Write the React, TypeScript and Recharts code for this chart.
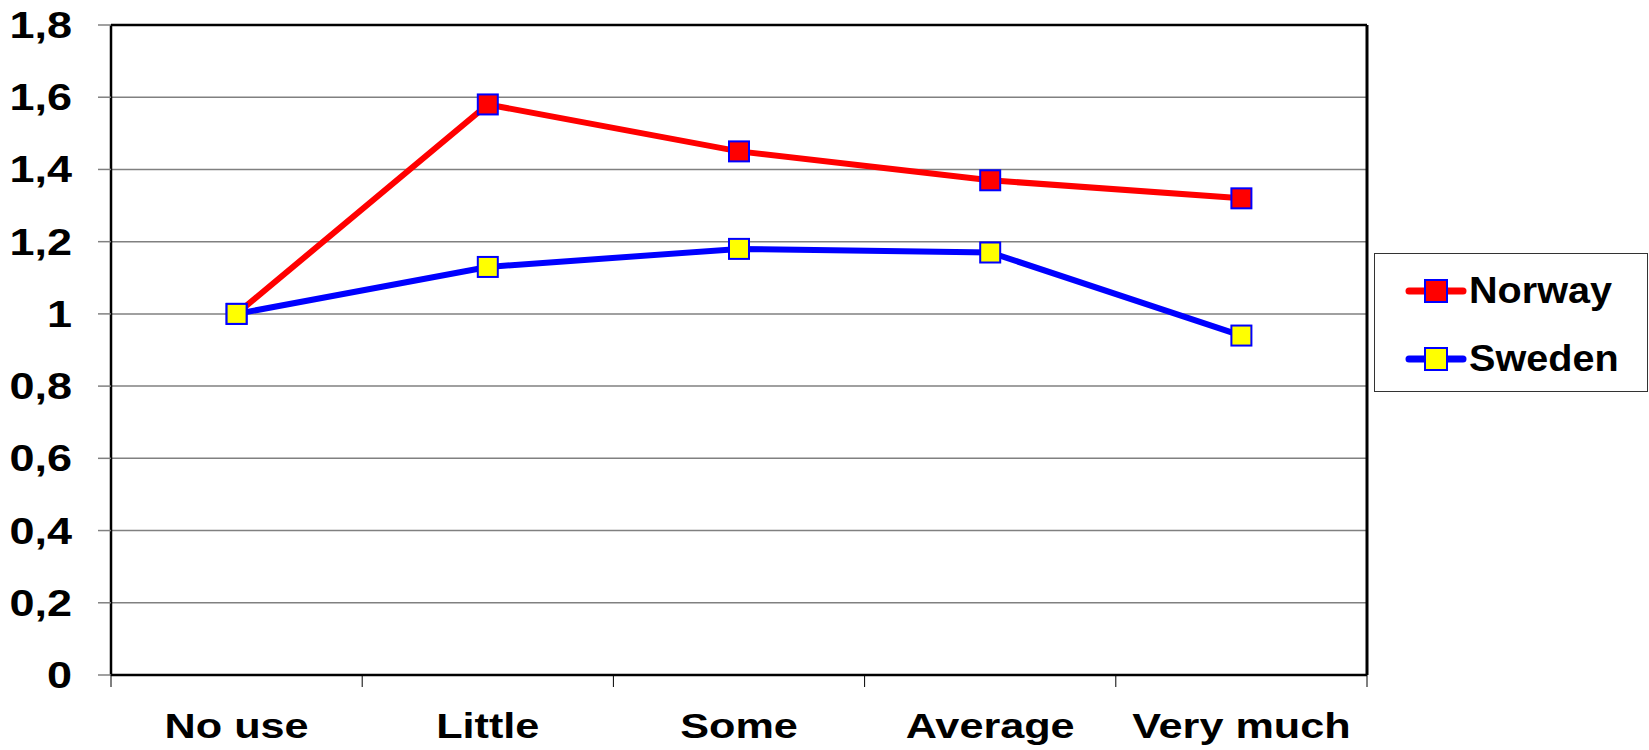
import React from 'react';
import { LineChart, Line, XAxis, YAxis, CartesianGrid, ReferenceLine, Legend } from 'recharts';

const categories = ['No use', 'Little', 'Some', 'Average', 'Very much'];
const norway = [1.0, 1.58, 1.45, 1.37, 1.32];
const sweden = [1.0, 1.13, 1.18, 1.17, 0.94];
const yTicks = [0, 0.2, 0.4, 0.6, 0.8, 1, 1.2, 1.4, 1.6, 1.8];

const series = [
  { key: 'norway', name: 'Norway', line: '#FF0000', fill: '#FF0000' },
  { key: 'sweden', name: 'Sweden', line: '#0000FF', fill: '#FFFF00' },
];

const FONT = '"Liberation Sans", Arial, sans-serif';

// categories sit at the middle of each band, ticks mark the band edges
const data = categories.map((name, i) => ({
  pos: i + 0.5,
  name,
  norway: norway[i],
  sweden: sweden[i],
}));
const xTicks: number[] = [];
for (let i = 0; i <= categories.length; i++) {
  xTicks.push(i);
  if (i < categories.length) xTicks.push(i + 0.5);
}

const XTick = (props: any) => {
  const { x, y, payload } = props;
  const v = payload.value;
  if (Number.isInteger(v)) {
    return <line x1={x} y1={y} x2={x} y2={y + 12} stroke="#000" strokeWidth={1} />;
  }
  const label = categories[Math.floor(v)];
  return (
    <g transform={`translate(${x},${y + 63}) scale(1.2,1)`}>
      <text x={0} y={0} textAnchor="middle" fontFamily={FONT} fontWeight="bold" fontSize={36} fill="#000">
        {label}
      </text>
    </g>
  );
};

const YTick = (props: any) => {
  const { x, y, payload } = props;
  return (
    <g transform={`translate(${x},${y}) scale(1.25,1)`}>
      <text x={0} y={0} dy="0.36em" textAnchor="end" fontFamily={FONT} fontWeight="bold" fontSize={36} fill="#000">
        {String(payload.value).replace('.', ',')}
      </text>
    </g>
  );
};

const SquareDot = (fill: string) => (props: any) => {
  const { cx, cy, index } = props;
  return <rect key={index} x={cx - 10} y={cy - 10} width={20} height={20} fill={fill} stroke="#0000FF" strokeWidth={2} />;
};

const LegendBox = () => (
  <div
    style={{
      width: 274,
      height: 139,
      border: '1px solid #333',
      boxSizing: 'border-box',
      background: '#fff',
      position: 'relative',
    }}
  >
    {series.map((s, i) => (
      <div key={s.key} style={{ position: 'absolute', left: 30, top: 37 + i * 68 - 20, height: 40, display: 'flex', alignItems: 'center' }}>
        <svg width={62} height={40}>
          <line x1={4} y1={20} x2={58} y2={20} stroke={s.line} strokeWidth={7} strokeLinecap="round" />
          <rect x={20} y={9} width={22} height={22} fill={s.fill} stroke="#0000FF" strokeWidth={2} />
        </svg>
        <span
          style={{
            fontFamily: FONT,
            fontWeight: 'bold',
            fontSize: 36,
            color: '#000',
            display: 'inline-block',
            transform: 'scaleX(1.1)',
            transformOrigin: 'left center',
            marginLeft: 2,
          }}
        >
          {s.name}
        </span>
      </div>
    ))}
  </div>
);

const App: React.FC = () => {
  return (
    <div style={{ position: 'absolute', left: 0, top: 0, width: 1649, height: 750, background: '#fff' }}>
      <LineChart width={1649} height={750} data={data} margin={{ top: 25, right: 282, left: 0, bottom: 0 }}>
        <CartesianGrid vertical={false} stroke="#808080" strokeWidth={1.5} />
        <XAxis
          dataKey="pos"
          type="number"
          domain={[0, categories.length]}
          ticks={xTicks}
          interval={0}
          height={75}
          tickLine={false}
          tickSize={0}
          tickMargin={0}
          axisLine={{ stroke: '#000', strokeWidth: 2.5 }}
          tick={<XTick />}
        />
        <YAxis
          type="number"
          domain={[0, 1.8]}
          ticks={yTicks}
          interval={0}
          width={111}
          tickSize={13}
          tickMargin={26}
          tickLine={{ stroke: '#808080', strokeWidth: 1.5 }}
          axisLine={{ stroke: '#000', strokeWidth: 2.5 }}
          tick={<YTick />}
        />
        <ReferenceLine y={1.8} stroke="#000" strokeWidth={2.5} />
        <ReferenceLine x={categories.length} stroke="#000" strokeWidth={3} />
        {series.map((s) => (
          <Line
            key={s.key}
            type="linear"
            dataKey={s.key}
            name={s.name}
            stroke={s.line}
            strokeWidth={6}
            dot={SquareDot(s.fill)}
            activeDot={false}
            isAnimationActive={false}
          />
        ))}
        <Legend
          layout="horizontal"
          verticalAlign="middle"
          align="center"
          content={<LegendBox />}
          wrapperStyle={{ left: 1374, top: 253, width: 274, height: 139 }}
        />
      </LineChart>
    </div>
  );
};

export default App;
